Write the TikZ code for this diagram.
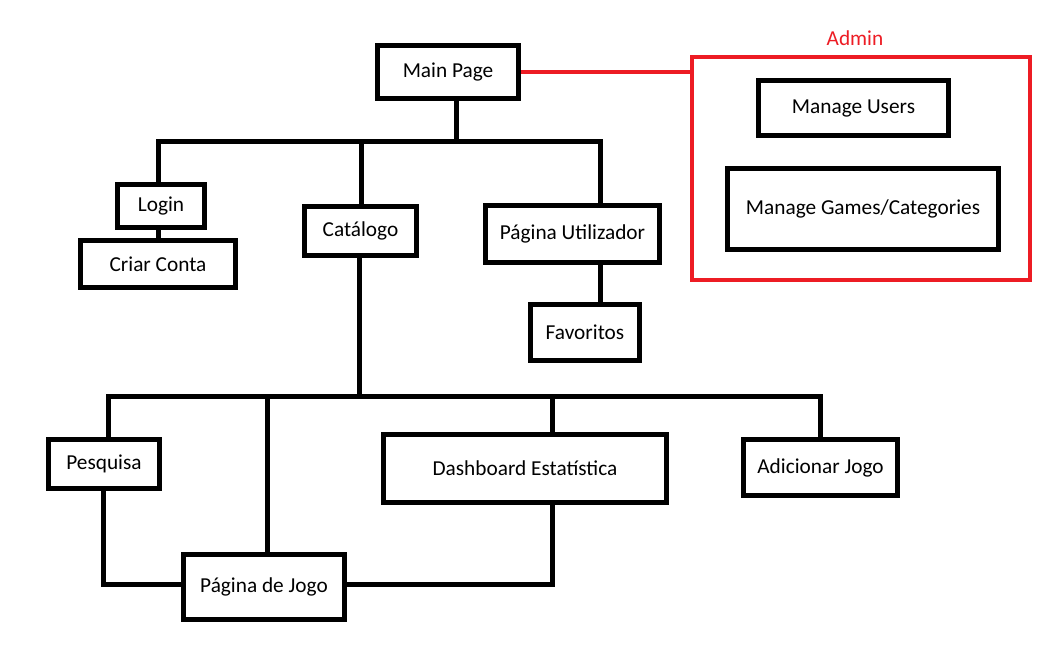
\documentclass[tikz,border=0pt]{standalone}
\usepackage{fontspec}
\setmainfont{Carlito}
\definecolor{pred}{RGB}{237,28,36}
\begin{document}
\begin{tikzpicture}[x=1pt,y=-1pt,
  box/.style={draw=black, line width=5pt, fill=white, inner sep=0pt, line join=miter, font=\fontsize{21.3}{25}\selectfont},
  link/.style={draw=black, line width=5pt, line cap=rect},
  redlink/.style={draw=pred, line width=4pt},
  group/.style={draw=pred, line width=4pt, inner sep=0pt},
  grouplabel/.style={text=pred, font=\fontsize{21.3}{25}\selectfont}]
\useasboundingbox[fill=white] (0,0) rectangle (1064,646);

% admin group
\node[group, minimum width=338pt, minimum height=223pt] (admin) at (861,168.5) {};
\node[grouplabel] (adminlbl) at (855,38) {Admin};
\node[box, minimum width=190pt, minimum height=55pt] (users) at (853.5,108) {Manage Users};
\node[box, minimum width=271pt, minimum height=81pt] (games) at (863,209) {Manage Games/Categories};

% nodes
\node[box, minimum width=141pt, minimum height=53pt] (main) at (448,72) {Main Page};
\node[box, minimum width=87pt, minimum height=43pt] (login) at (161,206) {Login};
\node[box, minimum width=155pt, minimum height=47pt] (criar) at (158,264) {Criar Conta};
\node[box, minimum width=112pt, minimum height=49pt] (catalogo) at (360.5,231) {Catálogo};
\node[box, minimum width=174pt, minimum height=57pt] (pagutil) at (572.5,234) {Página Utilizador};
\node[box, minimum width=109pt, minimum height=56pt] (favoritos) at (585,332.5) {Favoritos};
\node[box, minimum width=111pt, minimum height=49pt] (pesquisa) at (104,464) {Pesquisa};
\node[box, minimum width=283pt, minimum height=68pt] (dashboard) at (525,468.5) {Dashboard Estatística};
\node[box, minimum width=154pt, minimum height=56pt] (adicionar) at (820.5,467.5) {Adicionar Jogo};
\node[box, minimum width=161pt, minimum height=65pt] (pagjogo) at (264,587) {Página de Jogo};

% junction coordinates
\coordinate (b1) at (456,141);
\coordinate (b1l) at (158,141);
\coordinate (b1r) at (600,141);
\coordinate (b1c) at (361,141);
\coordinate (b2) at (359,396);
\coordinate (b2l) at (108,396);
\coordinate (b2r) at (820,396);
\coordinate (b2j) at (267,396);
\coordinate (b2d) at (552,396);
\coordinate (c1) at (103,584);
\coordinate (c2) at (552,584);

% connectors
\draw[redlink] (main.east) -- (main.east -| admin.west);
\draw[link] (b1 |- main.south) -- (b1);
\draw[link] (b1l) -- (b1r);
\draw[link] (b1l) -- (b1l |- login.north);
\draw[link] (b1c) -- (b1c |- catalogo.north);
\draw[link] (b1r) -- (b1r |- pagutil.north);
\draw[link] (b1l |- login.south) -- (b1l |- criar.north);
\draw[link] (b1r |- pagutil.south) -- (b1r |- favoritos.north);
\draw[link] (b2 |- catalogo.south) -- (b2);
\draw[link] (b2l) -- (b2r);
\draw[link] (b2l) -- (b2l |- pesquisa.north);
\draw[link] (b2j) -- (b2j |- pagjogo.north);
\draw[link] (b2d) -- (b2d |- dashboard.north);
\draw[link] (b2r) -- (b2r |- adicionar.north);
\draw[link] (c1 |- pesquisa.south) -- (c1) -- (c1 -| pagjogo.west);
\draw[link] (c2 |- dashboard.south) -- (c2) -- (c2 -| pagjogo.east);
\end{tikzpicture}
\end{document}
